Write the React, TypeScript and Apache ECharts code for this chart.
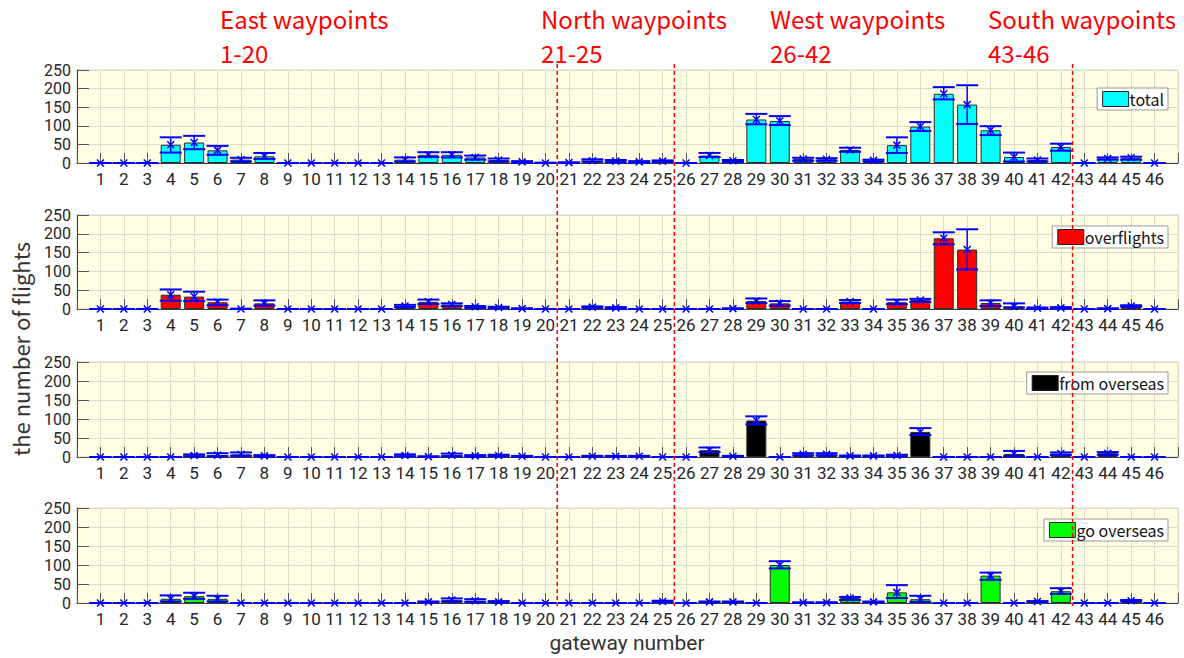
import React, { useEffect, useRef } from "react";
import * as echarts from "echarts";

// ---------- data ----------
const gateways = [
  1, 2, 3, 4, 5, 6, 7, 8, 9, 10, 11, 12, 13, 14, 15, 16, 17, 18, 19, 20,
  21, 22, 23, 24, 25,
  26, 27, 28, 29, 30, 31, 32, 33, 34, 35, 36, 37, 38, 39, 40, 41, 42,
  43, 44, 45, 46,
];

const totalValues = [
  0, 0, 0, 49, 55, 34, 9, 18, 0, 0, 0, 0, 0, 9, 22, 22, 15, 8, 3, 0,
  1, 6, 5, 3, 5,
  0, 20, 6, 117, 113, 11, 10, 35, 7, 48, 98, 186, 157, 88, 16, 8, 43,
  0, 12, 14, 0,
];
const totalLow = [
  0, 0, 0, 28, 37, 22, 4, 11, 0, 0, 0, 0, 0, 4, 16, 15, 9, 4, 1, 0,
  0, 4, 2, 1, 3,
  0, 16, 3, 104, 102, 6, 6, 30, 4, 27, 86, 171, 105, 75, 4, 4, 33,
  0, 9, 9, 0,
];
const totalHigh = [
  0, 0, 0, 69, 73, 46, 14, 27, 0, 0, 0, 0, 0, 15, 29, 29, 20, 12, 5, 1,
  2, 10, 8, 5, 7,
  0, 27, 8, 132, 126, 14, 13, 41, 9, 69, 110, 204, 209, 99, 28, 12, 52,
  0, 15, 17, 0,
];

const overflightValues = [
  0, 0, 0, 38, 33, 18, 0, 15, 0, 0, 0, 0, 0, 8, 19, 12, 6, 4, 1, 0,
  0, 5, 3, 0, 0,
  0, 0, 1, 21, 15, 0, 0, 20, 0, 18, 24, 188, 158, 16, 7, 2, 3,
  0, 1, 8, 0,
];
const overflightLow = [
  0, 0, 0, 22, 21, 10, 0, 9, 0, 0, 0, 0, 0, 5, 13, 8, 3, 2, 0, 0,
  0, 3, 1, 0, 0,
  0, 0, 0, 16, 9, 0, 0, 16, 0, 13, 19, 172, 105, 8, 4, 0, 1,
  0, 0, 6, 0,
];
const overflightHigh = [
  0, 0, 0, 52, 46, 25, 1, 23, 0, 0, 0, 0, 0, 11, 25, 15, 8, 6, 2, 0,
  0, 7, 5, 0, 0,
  0, 0, 2, 28, 21, 0, 0, 24, 0, 25, 27, 204, 212, 23, 15, 4, 5,
  0, 2, 10, 0,
];

const fromOverseasValues = [
  0, 0, 0, 0, 4, 5, 7, 3, 0, 0, 0, 0, 0, 4, 1, 5, 3, 4, 2, 0,
  0, 2, 2, 2, 0,
  0, 18, 2, 96, 0, 7, 7, 3, 3, 4, 66, 0, 0, 0, 8, 0, 9,
  0, 10, 0, 0,
];
const fromOverseasLow = [
  0, 0, 0, 0, 2, 2, 3, 1, 0, 0, 0, 0, 0, 2, 0, 2, 1, 2, 1, 0,
  0, 1, 1, 1, 0,
  0, 13, 1, 86, 0, 4, 4, 2, 2, 2, 58, 0, 0, 0, 2, 0, 5,
  0, 6, 0, 0,
];
const fromOverseasHigh = [
  0, 0, 0, 0, 7, 10, 12, 5, 0, 0, 0, 0, 0, 7, 2, 9, 5, 6, 3, 0,
  0, 3, 3, 3, 0,
  0, 25, 3, 107, 0, 10, 10, 4, 4, 6, 76, 0, 0, 0, 16, 0, 12,
  0, 13, 0, 0,
];

const goOverseasValues = [
  0, 0, 0, 11, 18, 11, 0, 0, 0, 0, 0, 0, 0, 0, 3, 8, 6, 3, 0, 0,
  0, 0, 0, 0, 4,
  0, 3, 3, 0, 100, 1, 1, 13, 3, 28, 10, 0, 0, 72, 0, 4, 31,
  0, 0, 6, 0,
];
const goOverseasLow = [
  0, 0, 0, 4, 11, 4, 0, 0, 0, 0, 0, 0, 0, 0, 2, 4, 3, 2, 0, 0,
  0, 0, 0, 0, 2,
  0, 2, 2, 0, 91, 0, 0, 8, 2, 13, 3, 0, 0, 61, 0, 3, 24,
  0, 0, 4, 0,
];
const goOverseasHigh = [
  0, 0, 0, 20, 27, 19, 0, 0, 0, 0, 0, 0, 0, 0, 4, 12, 10, 5, 0, 0,
  0, 0, 0, 0, 6,
  0, 4, 4, 0, 110, 2, 2, 16, 4, 47, 19, 0, 0, 80, 0, 5, 39,
  0, 0, 8, 0,
];

const seriesNames = ["total", "overflights", "from overseas", "go overseas"];
const seriesColors = ["#00ffff", "#ff0000", "#000000", "#00ff00"];
const yTicks = [0, 50, 100, 150, 200, 250];
const regionBoundaries = [20.5, 25.5, 42.5];
const regionTitles = [
  ["East waypoints", "1-20"],
  ["North waypoints", "21-25"],
  ["West waypoints", "26-42"],
  ["South waypoints", "43-46"],
];

// ---------- layout/style ----------
const FONT = "'Noto Sans CJK JP', 'Noto Sans', sans-serif";
const NUMFONT = "Roboto, 'Noto Sans', sans-serif";
const gridTops = [70, 215, 362, 508];
const gridHeights = [93, 94, 95, 95];
const legendTops = [88, 226, 372, 519];
const titleXs = [220, 541, 770, 988];

const panels = [
  { values: totalValues, low: totalLow, high: totalHigh },
  { values: overflightValues, low: overflightLow, high: overflightHigh },
  { values: fromOverseasValues, low: fromOverseasLow, high: fromOverseasHigh },
  { values: goOverseasValues, low: goOverseasLow, high: goOverseasHigh },
];

function errorRender(params: any, api: any) {
  const x = api.value(0);
  const pv = api.coord([x, api.value(1)]);
  const pl = api.coord([x, api.value(2)]);
  const ph = api.coord([x, api.value(3)]);
  const hw = 11;
  const m = 3.5;
  const blue = "#0000ff";
  const cap = { stroke: blue, lineWidth: 2 };
  const thin = { stroke: blue, lineWidth: 1.5 };
  return {
    type: "group",
    children: [
      { type: "line", shape: { x1: pl[0], y1: pl[1], x2: ph[0], y2: ph[1] }, style: thin },
      { type: "line", shape: { x1: pl[0] - hw, y1: pl[1], x2: pl[0] + hw, y2: pl[1] }, style: cap },
      { type: "line", shape: { x1: ph[0] - hw, y1: ph[1], x2: ph[0] + hw, y2: ph[1] }, style: cap },
      { type: "line", shape: { x1: pv[0] - m, y1: pv[1] - m, x2: pv[0] + m, y2: pv[1] + m }, style: thin },
      { type: "line", shape: { x1: pv[0] - m, y1: pv[1] + m, x2: pv[0] + m, y2: pv[1] - m }, style: thin },
    ],
  };
}

export default function App() {
  const ref = useRef<HTMLDivElement>(null);

  useEffect(() => {
    if (!ref.current) return;
    const chart = echarts.init(ref.current, null, { renderer: "svg" });

    const grid = gridTops.map((t, i) => ({
      left: 77,
      right: 6,
      top: t,
      height: gridHeights[i],
      show: true,
      backgroundColor: "#fffee3",
      borderColor: "#d6d6c8",
      borderWidth: 1,
    }));

    const xAxis = panels.map((_, i) => ({
      type: "value",
      gridIndex: i,
      min: 0,
      max: 47,
      interval: 1,
      axisLine: { show: true, onZero: false, lineStyle: { color: "#3a3a3a", width: 1 } },
      axisTick: { show: true, inside: true, length: 10, lineStyle: { color: "#555" } },
      axisLabel: {
        fontSize: 17,
        lineHeight: 18,
        fontFamily: NUMFONT,
        color: "#262626",
        margin: 7,
        formatter: (v: number) => (gateways.indexOf(v) >= 0 ? String(v) : ""),
      },
      splitLine: { show: true, lineStyle: { color: "#dcdccd", width: 1 } },
    }));

    const yAxis = panels.map((_, i) => ({
      type: "value",
      gridIndex: i,
      min: yTicks[0],
      max: yTicks[yTicks.length - 1],
      interval: yTicks[1] - yTicks[0],
      axisLine: { show: true, lineStyle: { color: "#3a3a3a", width: 1 } },
      axisTick: { show: true, inside: true, length: 12, lineStyle: { color: "#555" } },
      axisLabel: { fontSize: 16, lineHeight: 16, fontFamily: NUMFONT, color: "#262626", margin: 6 },
      splitLine: { show: true, lineStyle: { color: "#dcdccd", width: 1 } },
    }));

    const series: any[] = [];
    panels.forEach((p, i) => {
      series.push({
        type: "bar",
        name: seriesNames[i],
        xAxisIndex: i,
        yAxisIndex: i,
        barWidth: 20,
        data: gateways.map((g, j) => [g, p.values[j]]),
        itemStyle: { color: seriesColors[i], borderColor: "#2a2a2a", borderWidth: 1 },
        silent: true,
      });
      series.push({
        type: "custom",
        name: seriesNames[i] + " error",
        xAxisIndex: i,
        yAxisIndex: i,
        renderItem: errorRender,
        encode: { x: 0, y: [1, 2, 3] },
        data: gateways.map((g, j) => [g, p.values[j], p.low[j], p.high[j]]),
        silent: true,
        z: 5,
      });
    });

    const legend = panels.map((_, i) => ({
      data: [{ name: seriesNames[i], icon: "rect" }],
      right: 16,
      top: legendTops[i],
      itemWidth: 26,
      itemHeight: 15,
      padding: [3, 4, 3, 5],
      backgroundColor: "#ffffff",
      borderColor: "#999999",
      borderWidth: 1,
      selectedMode: false,
      textStyle: { fontSize: 16, fontFamily: FONT, color: "#111", padding: [0, 0, 0, -4] },
      itemStyle: { borderColor: "#222", borderWidth: 1 },
    }));

    const texts: any[] = [];
    regionTitles.forEach((t, i) => {
      texts.push({
        type: "text",
        x: titleXs[i],
        y: 18,
        style: { text: t[0], fill: "#ff0000", font: `24px ${FONT}`, lineHeight: 26, align: "left", verticalAlign: "middle" },
      });
      texts.push({
        type: "text",
        x: titleXs[i],
        y: 52,
        style: { text: t[1], fill: "#ff0000", font: `24px ${FONT}`, lineHeight: 26, align: "left", verticalAlign: "middle" },
      });
    });
    texts.push({
      type: "text",
      x: 20,
      y: 349,
      rotation: Math.PI / 2,
      style: { text: "the number of flights", fill: "#333", font: `22px ${FONT}`, lineHeight: 24, align: "center", verticalAlign: "middle" },
    });
    texts.push({
      type: "text",
      x: 627,
      y: 643,
      style: { text: "gateway number", fill: "#333", font: `21px ${NUMFONT}`, lineHeight: 22, align: "center", verticalAlign: "middle" },
    });

    chart.setOption({
      animation: false,
      grid,
      xAxis,
      yAxis,
      series,
      legend,
      graphic: texts,
    });

    const yTop = (chart.convertToPixel({ yAxisIndex: 0 } as any, 250) as number) - 6;
    const yBot = (chart.convertToPixel({ yAxisIndex: 3 } as any, 0) as number) + 3;
    const lines = regionBoundaries.map((b) => {
      const x = chart.convertToPixel({ xAxisIndex: 0 } as any, b) as number;
      return {
        type: "line",
        z: 100,
        shape: { x1: x, y1: yTop, x2: x, y2: yBot },
        style: { stroke: "#ff0000", lineWidth: 1.5, lineDash: [4, 3] },
        silent: true,
      };
    });
    chart.setOption({ graphic: [...texts, ...lines] });

    return () => chart.dispose();
  }, []);

  return (
    <div
      ref={ref}
      style={{ position: "fixed", left: 0, top: 0, width: 1184, height: 658, background: "#ffffff" }}
    />
  );
}
